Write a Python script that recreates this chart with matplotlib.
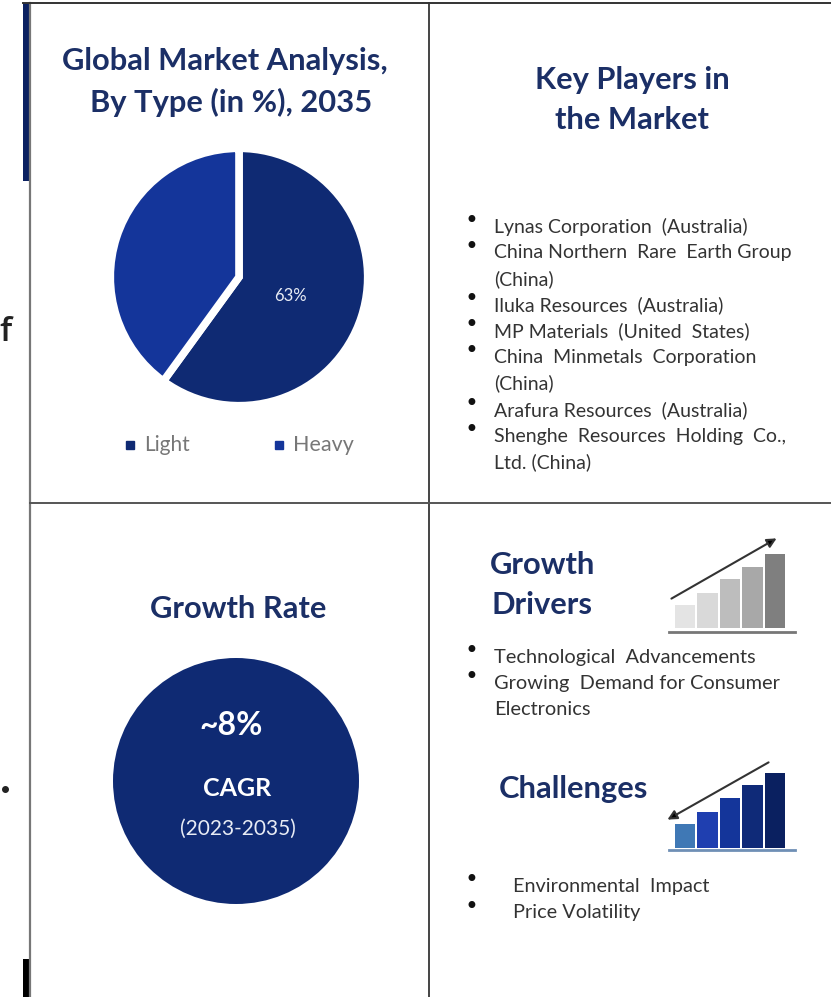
import matplotlib
matplotlib.use('Agg')
import matplotlib.pyplot as plt
from matplotlib.patches import Circle, Rectangle

W, H = 831, 997

# dados
tipos = ['Light', 'Heavy']
fatias = [60, 40]
rotulo_light = '63%'
jogadores = [
    ['Lynas Corporation  (Australia)'],
    ['China Northern  Rare  Earth Group', '(China)'],
    ['Iluka Resources  (Australia)'],
    ['MP Materials  (United  States)'],
    ['China  Minmetals  Corporation', '(China)'],
    ['Arafura Resources  (Australia)'],
    ['Shenghe  Resources  Holding  Co.,', 'Ltd. (China)'],
]
drivers = [['Technological  Advancements'], ['Growing  Demand for Consumer', 'Electronics']]
desafios = ['Environmental  Impact', 'Price Volatility']
alturas_sobe = [23, 35, 49, 61, 74]
alturas_desce = [24, 36, 50, 63, 75]
cores_sobe = ['#e4e4e4', '#d9d9d9', '#bdbdbd', '#a8a8a8', '#7f7f7f']
cores_desce = ['#3f78b5', '#1f3fb0', '#14359a', '#0f2a78', '#0a2060']

NAVY = '#0f2a73'
AZUL = '#14359a'
TITULO = '#1b2f66'
TEXTO = '#333333'
CORPO = 'Lato'


def eixo_px(x0, y0, x1, y1):
    return fig.add_axes([x0 / W, 1 - y1 / H, (x1 - x0) / W, (y1 - y0) / H])


def titulo(x, y, s, fs=22.2):
    fundo.text(x, y, s, fontsize=fs, fontweight='bold', family='Lato', color=TITULO, ha='center', va='center')


def lista(x_bala, x_texto, y, itens, passo=26.2, fs=14):
    for item in itens:
        fundo.text(x_bala, y - 6, '•', fontsize=17, color='#111111', ha='center', va='center', family='DejaVu Sans')
        for linha in item:
            fundo.text(x_texto, y, linha, fontsize=fs, family=CORPO, color=TEXTO, ha='left', va='center')
            y += passo


fig = plt.figure(figsize=(W / 100, H / 100), dpi=100)
fundo = fig.add_axes([0, 0, 1, 1])
fundo.set_xlim(0, W)
fundo.set_ylim(H, 0)
fundo.axis('off')

# moldura
fundo.plot([30, 30], [3, 997], color='#777777', lw=1.6)
fundo.plot([429, 429], [3, 997], color='#444444', lw=1.4)
fundo.plot([30, 831], [503, 503], color='#555555', lw=1.4)
fundo.plot([23, 831], [3, 3], color='#333333', lw=1.4)
fundo.add_patch(Rectangle((23, 3), 7, 178, color='#0a2060', lw=0))
fundo.add_patch(Rectangle((23, 959), 8, 38, color='black', lw=0))
fundo.text(-1, 332, 'f', fontsize=24, fontweight='semibold', family='Open Sans', color='#222222', ha='left', va='center')
fundo.plot([5], [789], 'o', color='#222222', ms=4)

# painel da pizza
titulo(225, 61, 'Global Market Analysis,')
titulo(231, 102, 'By Type (in %), 2035')

ax_pizza = eixo_px(109, 147, 369, 407)
ax_pizza.pie(fatias, colors=[NAVY, AZUL], startangle=90, counterclock=False, radius=1,
             wedgeprops=dict(edgecolor='white', linewidth=5.5))
ax_pizza.set_xlim(-1.01, 1.01)
ax_pizza.set_ylim(-1.01, 1.01)
ax_pizza.text(0.40, -0.15, rotulo_light, fontsize=12, color='#e8ecf5', family=CORPO, ha='center', va='center')

fundo.plot([130], [445], 's', color=NAVY, ms=6)
fundo.text(144, 445, tipos[0], fontsize=15, family=CORPO, color='#777777', ha='left', va='center')
fundo.plot([279], [445], 's', color=AZUL, ms=6)
fundo.text(293, 445, tipos[1], fontsize=15.5, family=CORPO, color='#777777', ha='left', va='center')

# key players
titulo(632, 80, 'Key Players in')
titulo(632, 120, 'the Market')
lista(471, 494, 226.5, jogadores)

# taxa de crescimento
titulo(238, 609, 'Growth Rate')
fundo.add_patch(Circle((236, 781), 123, color=NAVY, lw=0))
fundo.text(231, 725, '~8%', fontsize=23, fontweight='bold', family='Lato', color='white', ha='center', va='center')
fundo.text(237, 788, 'CAGR', fontsize=18, fontweight='bold', family='Lato', color='white', ha='center', va='center')
fundo.text(238, 829, '(2023-2035)', fontsize=15, family='Lato', color='#e8ecf5', ha='center', va='center')

# drivers e desafios
titulo(543, 565, 'Growth')
titulo(542, 605, 'Drivers')
lista(471, 494, 657, drivers, fs=14.4)
titulo(573, 789, 'Challenges')
lista(471, 513, 886, [[d] for d in desafios], passo=26.5, fs=14.3)


def icone(x0, x1, y_base, alturas, cores):
    ax = eixo_px(x0, y_base - 80, x1, y_base)
    ax.bar(range(len(alturas)), alturas, width=0.9, color=cores)
    ax.set_xlim(-0.45, len(alturas) - 0.55)
    ax.set_ylim(0, 80)
    ax.axis('off')
    ax.patch.set_alpha(0)


icone(675, 785, 628, alturas_sobe, cores_sobe)
fundo.plot([669, 795], [632, 632], color='#777777', lw=2)
fundo.annotate('', xy=(779, 537), xytext=(669, 600),
               arrowprops=dict(arrowstyle='-|>', color='#333333', fc='black', lw=1.5, mutation_scale=14))

icone(675, 785, 848, alturas_desce, cores_desce)
fundo.plot([669, 795], [850, 850], color='#6f8fb5', lw=2)
fundo.annotate('', xy=(665, 821), xytext=(771, 761),
               arrowprops=dict(arrowstyle='-|>', color='#333333', fc='black', lw=1.5, mutation_scale=14))

fig.savefig('out.png', dpi=100)
